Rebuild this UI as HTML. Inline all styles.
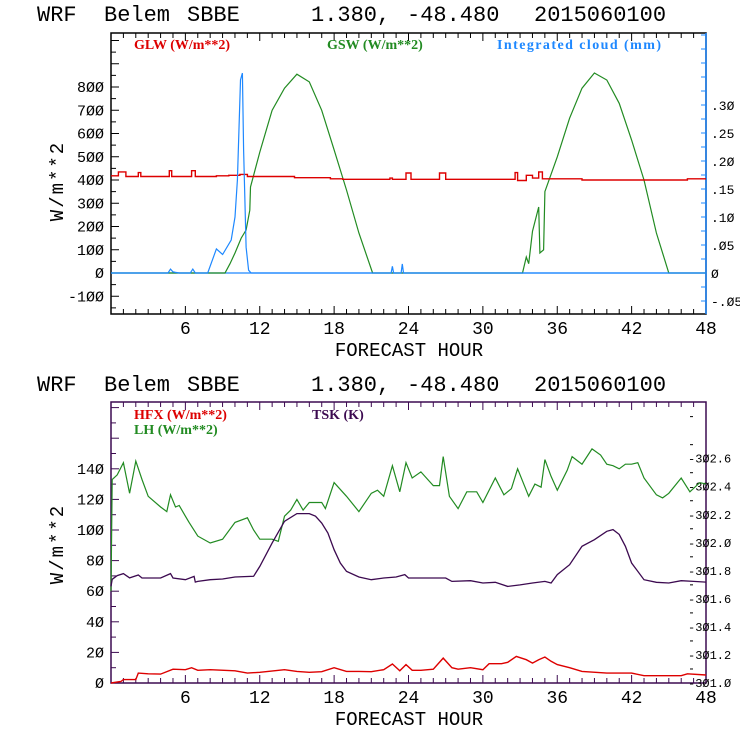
<!DOCTYPE html>
<html><head><meta charset="utf-8"><style>
html,body{margin:0;padding:0;background:#fff;}
svg{display:block;}
.m{font-family:"Liberation Mono",monospace;}
.s{font-family:"Liberation Serif",serif;font-weight:bold;}
</style></head><body>
<svg id="c" width="740" height="740" viewBox="0 0 740 740" xmlns="http://www.w3.org/2000/svg"></svg>
<script>
// ---- top panel data ----
const gswT=[0,9.2,9.6,10,10.5,10.9,11.2,11.25,12,13,14,15,16,17,18,19,20,21.1,33.2,33.5,33.7,34,34.5,34.6,34.9,35,36,37,38,39,40,41,42,43,44,45,48];
const gswV=[0,0,40,86,150,185,270,370,520,700,795,855,822,700,530,357,172,0,0,69,40,180,284,86,100,350,500,666,795,860,830,730,572,400,172,0,0];
const glwT=[0,0.6,1.2,2.2,2.4,4.7,4.9,6.5,6.8,8.5,9.5,10.4,11,14.8,17.7,18.7,22.5,22.7,23.8,24.2,26.5,27,32.6,32.8,33.5,34,34.5,34.8,38,46.5,48];
const glwV=[418,435,415,432,415,440,415,440,415,418,420,424,415,410,405,403,408,403,430,403,430,403,432,398,420,408,435,405,400,405,405];
const cldT=[0,4.6,4.8,5.0,5.2,5.5,6.4,6.6,6.8,7.8,8.5,9,9.7,10,10.2,10.45,10.6,10.7,10.9,11.1,11.3,22.6,22.7,22.8,23.4,23.5,23.6,48];
const cldV=[0,0,0.007,0.002,0.001,0,0,0.007,0,0,0.043,0.033,0.059,0.1,0.166,0.345,0.357,0.22,0.046,0.005,0,0,0.012,0,0,0.016,0,0];
const topYTicks=[-100,0,100,200,300,400,500,600,700,800];
const topRTicks=[-0.05,0,0.05,0.10,0.15,0.20,0.25,0.30];
const topRLabels=["-.05","0",".05",".10",".15",".20",".25",".30"];
const xTicks=[6,12,18,24,30,36,42,48];
// ---- bottom panel data ----
const lhT=[0,0.1,0.5,1,1.5,2,2.5,3,4,4.5,4.8,5.2,5.5,6,6.3,7,8,9,10,11,11.5,12,13,13.5,14,14.5,15,15.5,16,17,17.3,18,19,20,21,21.5,22,22.7,23.3,23.8,24.3,25,26,26.5,26.8,27.3,28,28.7,29.5,30,31,31.7,32.3,32.8,33.7,34.2,34.7,35,35.5,36,36.8,37.2,38,38.8,39.5,40,40.5,41,41.5,42,42.5,43,44,44.5,45,46,46.7,47.5,48];
const lhV=[60,133,136,144,124,145,133,122,115,112,123,115,116,109,105,96,91.5,94,105,108,100,94,94,92.6,109,113,120,113,118,118,114,131,122,112,124,126,122,142,125,144,134,138,129,129,148,122,114,125,125,118,134,123,127,140,122,130,128,146,135,126,139,148,143,153,149,143,142,140,143,143,144,134,123,121,124,134,125,131,130];
const hfxT=[0,0.8,1,2,2.2,3,4,5,6,6.5,7,8,10,11,12,14,15,16,17,18,19,20,21,22,22.7,23.3,23.8,24.3,25,26,26.8,27.5,28,29,30,30.5,31.5,32,32.7,33.5,34,34.5,35,35.5,36,37,38,40,42,43,46,46.5,48];
const hfxV=[0,1,2.2,2.2,6.5,6,5.8,9,8.7,10,8.3,8.7,8,6.5,7,8.7,7.6,7,7.4,10,7.6,7.6,7.4,8.7,12.4,8,12,8.3,8.3,9,16.3,10,9,10,8.7,12.6,12.6,13.5,17.4,15.2,13,15.2,17,14.2,12,10,7.6,6.5,6.5,4.8,4.8,6,5.2];
const tskT=[0,0.1,0.5,1,1.5,2.2,2.5,4,4.8,5,6,6.7,6.8,7,8,9,10,11.5,12,13,14,15,16,16.5,17,17.5,18,18.5,19,20,21,22,23,23.7,24,27,27.5,29,30,31,32,33,34,35,35.5,36,37,38,39,40,40.5,41,41.5,42,43,44,45,46,47,48];
const tskV=[301.69,301.74,301.766,301.78,301.75,301.77,301.749,301.749,301.78,301.749,301.737,301.76,301.72,301.725,301.737,301.742,301.756,301.761,301.832,301.998,302.153,302.208,302.208,302.19,302.141,302.07,301.951,301.856,301.796,301.756,301.737,301.749,301.756,301.773,301.749,301.749,301.725,301.73,301.713,301.718,301.689,301.70,301.713,301.725,301.713,301.773,301.844,301.975,302.022,302.082,302.094,302.06,301.975,301.856,301.737,301.718,301.713,301.73,301.725,301.72];
const botYTicks=[0,20,40,60,80,100,120,140];
const botRTicks=[301.0,301.2,301.4,301.6,301.8,302.0,302.2,302.4,302.6];
const botRLabels=["301.0","301.2","301.4","301.6","301.8","302.0","302.2","302.4","302.6"];

const svg=document.getElementById('c');
const NS='http://www.w3.org/2000/svg';
function mk(tag,attrs,parent){const e=document.createElementNS(NS,tag);for(const k in attrs)e.setAttribute(k,attrs[k]);(parent||svg).appendChild(e);return e;}
const X0=111,X1=706;
const xs=h=>X0+(X1-X0)*h/48;
function lineD(T,V,yf,step){let d='';for(let i=0;i<T.length;i++){const x=xs(T[i]).toFixed(1),y=yf(V[i]).toFixed(1);if(i===0)d+='M'+x+' '+y;else if(step){d+='H'+x+'V'+y;}else d+='L'+x+' '+y;}return d;}
function txt(s,x,y,cls,size,fill,anchor,parent){const t=mk('text',{x:x,y:y,class:cls,'font-size':size,fill:fill,'text-anchor':anchor||'start'},parent);t.textContent=s;return t;}

function drawTitle(y0,g){
  const parts=[["WRF",37],["Belem",104],["SBBE",187],["1.380,",311],["-48.480",407],["2015060100",534]];
  parts.forEach(p=>txt(p[0],p[1],y0,'m',22,'#000','start',g));
}

// ===== TOP PANEL =====
const topG=mk('g',{});


const tTop=mk('g',{},topG);


drawTitle(21,tTop);
const TY0=33,TY1=314;
const ly=v=>273-v*0.2325;
const ry=v=>273-v*560;
mk('rect',{x:X0,y:TY0,width:X1-X0,height:TY1-TY0,fill:'none',stroke:'#000','stroke-width':1.5},topG);
mk('line',{x1:X1,y1:TY0,x2:X1,y2:TY1,stroke:'#1e88ff','stroke-width':1.5},topG);
for(let v=-150;v<=1050;v+=50){const y=ly(v);if(y<TY0||y>TY1)continue;const L=(v%100===0)?8:5;mk('line',{x1:X0,y1:y,x2:X0+L,y2:y,stroke:'#000'},topG);}
const tyl=mk('g',{},topG);


topYTicks.forEach(v=>txt(String(v).replace(/0/g,'Ø'),104,ly(v)+5,'m',15,'#000','end',tyl));
for(let v=-0.075;v<=0.5;v+=0.025){const y=ry(v);if(y<TY0||y>TY1)continue;mk('line',{x1:X1,y1:y,x2:X1-5,y2:y,stroke:'#1e88ff'},topG);}
const tyr=mk('g',{},topG);


topRTicks.forEach((v,i)=>txt(topRLabels[i].replace(/0/g,'Ø'),711,ry(v)+5,'m',13,'#000','start',tyr));
function xticks(g,y0,y1,col){for(let h=1;h<48;h++){const x=xs(h);const L=(h%6===0)?8:5;mk('line',{x1:x,y1:y1,x2:x,y2:y1-L,stroke:col},g);mk('line',{x1:x,y1:y0,x2:x,y2:y0+L,stroke:col},g);}}
xticks(topG,TY0,TY1,'#000');
const txl=mk('g',{},topG);


xTicks.forEach(h=>txt(String(h),xs(h),334,'m',18,'#000','middle',txl));
const tx=txt('FORECAST HOUR',409,356,'m',19,'#000','middle',topG);


const yt=txt('W/m**2',0,0,'m',19,'#000','middle',topG);
yt.setAttribute('transform','translate(63,181) rotate(-90)');
yt.setAttribute('letter-spacing','2');


const zl=mk('line',{x1:X0,y1:ly(0),x2:X1,y2:ly(0),stroke:'#1e88ff','stroke-width':1.2},topG);


const pg=mk('path',{d:lineD(gswT,gswV,ly,false),fill:'none',stroke:'#228b22','stroke-width':1.2},topG);


const pr=mk('path',{d:lineD(glwT,glwV,ly,true),fill:'none',stroke:'#dd0000','stroke-width':1.4},topG);


const pb=mk('path',{d:lineD(cldT,cldV,ry,false),fill:'none',stroke:'#1e88ff','stroke-width':1.2},topG);


const lg1=txt('GLW (W/m**2)',134,49,'s',14,'#dd0000','start',topG);


const lg2=txt('GSW (W/m**2)',327,49,'s',14,'#228b22','start',topG);


const lg3=txt('Integrated cloud (mm)',497,49,'s',14,'#1e88ff','start',topG);
lg3.setAttribute('textLength','164');



// ===== BOTTOM PANEL =====
const botG=mk('g',{});


const tBot=mk('g',{},botG);


drawTitle(391,tBot);
const BY0=402,BY1=683;
const by=v=>683-v*1.53;
const bry=v=>683-(v-301)*140.2;
const PUR='#3c0a50';
mk('rect',{x:X0,y:BY0,width:X1-X0,height:BY1-BY0,fill:'none',stroke:PUR,'stroke-width':1.5},botG);
for(let v=0;v<=180;v+=10){const y=by(v);if(y<BY0)continue;const L=(v%20===0)?8:5;mk('line',{x1:X0,y1:y,x2:X0+L,y2:y,stroke:PUR},botG);}
const byl=mk('g',{},botG);


botYTicks.forEach(v=>txt(String(v).replace(/0/g,'Ø'),104,by(v)+5,'m',15,'#000','end',byl));
for(let v=301.1;v<=302.95;v+=0.2){const y=bry(v);if(y<BY0+5)continue;mk('line',{x1:690,y1:y,x2:693,y2:y,stroke:'#000'},botG);}
const byr=mk('g',{},botG);


botRTicks.forEach((v,i)=>txt('-'+botRLabels[i].replace(/0/g,'Ø'),688,bry(v)+4,'m',12,'#000','start',byr));
xticks(botG,BY0,BY1,PUR);
const bxl=mk('g',{},botG);


xTicks.forEach(h=>txt(String(h),xs(h),703,'m',18,'#000','middle',bxl));
const bx=txt('FORECAST HOUR',409,725,'m',19,'#000','middle',botG);


const byt=txt('W/m**2',0,0,'m',19,'#000','middle',botG);
byt.setAttribute('transform','translate(63,544) rotate(-90)');
byt.setAttribute('letter-spacing','2');


const pl=mk('path',{d:lineD(lhT,lhV,by,false),fill:'none',stroke:'#228b22','stroke-width':1.2},botG);


const pt=mk('path',{d:lineD(tskT,tskV,bry,false),fill:'none',stroke:PUR,'stroke-width':1.3},botG);


const ph=mk('path',{d:lineD(hfxT,hfxV,by,false),fill:'none',stroke:'#dd0000','stroke-width':1.4},botG);


const l4=txt('HFX (W/m**2)',134,419,'s',14,'#dd0000','start',botG);


const l5=txt('LH  (W/m**2)',134,434,'s',14,'#228b22','start',botG);


const l6=txt('TSK (K)',312,419,'s',14,PUR,'start',botG);


</script>
</body></html>
